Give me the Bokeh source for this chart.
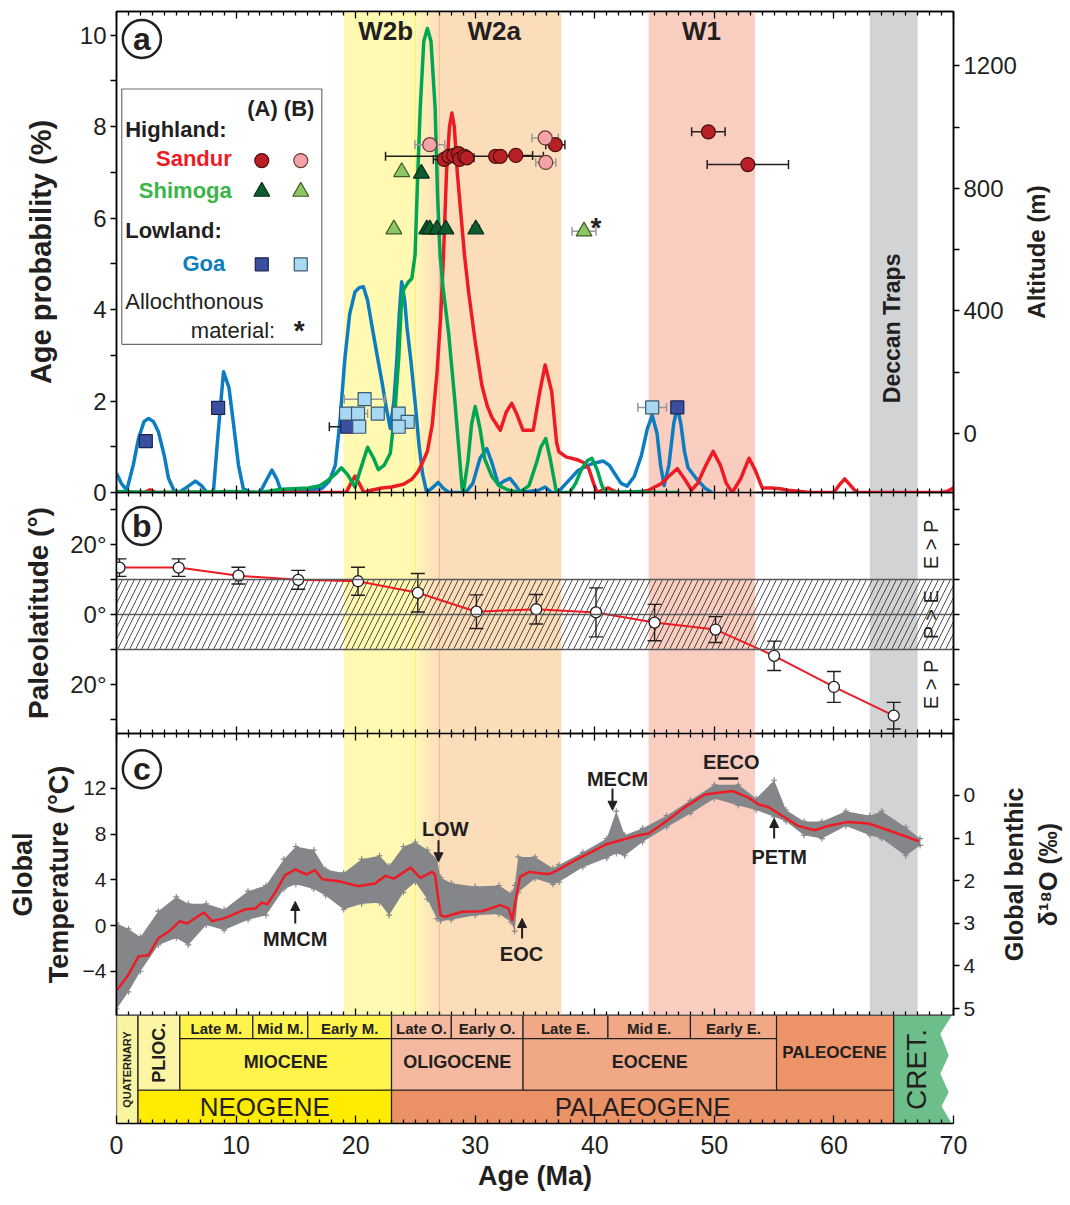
import numpy as np
from bokeh.plotting import figure
from bokeh.layouts import column, row
from bokeh.models import (Range1d, LinearAxis, FixedTicker, Span, Arrow, NormalHead, CustomJSTickFormatter,
                          CustomLabelingPolicy, Grid)
from bokeh.core.properties import value
from bokeh.embed import file_html
from bokeh.resources import INLINE

FONT = "Liberation Sans"

# ---------------- DATA ----------------
# Panel a: age probability curves (age Ma, %)
goa_curve = [(0, 0.42), (0.4, 0.2), (0.86, 0.05), (1.4, 0.6), (1.84, 1.18), (2.3, 1.55), (2.68, 1.62), (3.1, 1.55),
             (3.5, 1.33), (4.0, 0.8), (4.35, 0.31), (4.8, 0.05), (5.2, 0), (5.8, 0.1), (6.6, 0.25), (7.1, 0.15),
             (7.5, 0.02), (8.1, 0), (8.5, 1.3), (8.95, 2.64), (9.4, 2.3), (9.8, 1.47), (10.2, 0.6), (10.6, 0.09),
             (11.2, 0), (12.0, 0), (12.6, 0.3), (13.0, 0.49), (13.4, 0.3), (13.8, 0), (17.2, 0.09), (17.8, 0.25),
             (18.3, 0.6), (18.7, 1.6), (19.1, 2.93), (19.5, 3.9), (19.95, 4.39), (20.3, 4.48), (20.65, 4.5),
             (21.0, 4.2), (21.35, 3.66), (21.8, 3.0), (22.2, 2.42), (22.6, 1.8), (22.9, 1.4), (23.2, 2.0),
             (23.45, 2.93), (23.65, 3.9), (23.85, 4.61), (24.1, 4.2), (24.3, 3.6), (24.6, 2.93), (25.0, 1.9),
             (25.3, 1.04), (25.6, 0.4), (25.95, 0), (26.4, 0.1), (26.9, 0.22), (27.3, 0.1), (27.8, 0), (29.2, 0),
             (29.8, 0.2), (30.4, 0.75), (30.97, 0.96), (31.4, 0.65), (31.95, 0.16), (32.4, 0.25), (32.9, 0.31),
             (33.4, 0.15), (33.8, 0), (35.3, 0.05), (35.85, 0.12), (36.4, 0), (36.9, 0), (37.6, 0.2), (38.6, 0.48),
             (39.75, 0.63), (40.7, 0.69), (41.2, 0.6), (41.7, 0.4), (42.2, 0.2), (42.7, 0.14), (43.3, 0.35),
             (43.9, 0.81), (44.4, 1.4), (44.8, 1.69), (45.2, 1.3), (45.5, 0.6), (45.8, 0.15), (46.2, 0.6),
             (46.6, 1.5), (46.9, 1.88), (47.2, 1.5), (47.5, 0.9), (47.8, 0.54), (48.5, 0.3), (49.2, 0.1), (49.8, 0)]
sandur_curve = [(0, 0), (2.3, 0), (2.8, 0.06), (3.3, 0), (19.2, 0), (19.6, 0.2), (19.95, 0.36), (20.3, 0.2),
                (20.7, 0), (21.3, 0.05), (22.2, 0.1), (23.0, 0.12), (24.0, 0.18), (24.7, 0.29), (25.2, 0.45),
                (25.5, 0.6), (26.0, 0.9), (26.4, 1.47), (26.8, 2.6), (27.1, 3.8), (27.35, 5.2), (27.6, 7.0),
                (27.85, 8.0), (28.05, 8.3), (28.25, 8.0), (28.5, 7.0), (29.1, 5.2), (29.44, 4.4), (30.0, 3.3),
                (30.55, 2.35), (31.0, 1.9), (31.4, 1.64), (32.1, 1.36), (32.6, 1.76), (33.05, 1.95), (33.5, 1.7),
                (34.0, 1.36), (34.85, 1.36), (35.4, 2.2), (35.85, 2.79), (36.4, 2.2), (36.8, 1.1), (37.0, 0.89),
                (37.6, 0.78), (38.6, 0.71), (39.1, 0.65), (39.5, 0.52), (39.9, 0.2), (40.2, 0), (40.6, 0.05),
                (41.1, 0.1), (41.5, 0.05), (41.9, 0), (43.6, 0), (44.5, 0.05), (45.6, 0.2), (46.3, 0.38),
                (46.9, 0.52), (47.5, 0.3), (48.1, 0.05), (48.6, 0.2), (49.3, 0.6), (49.9, 0.9), (50.5, 0.6),
                (51.0, 0.2), (51.5, 0), (52.2, 0.3), (52.9, 0.75), (53.4, 0.5), (54.0, 0.1), (54.8, 0.1),
                (55.5, 0.08), (56.2, 0.05), (57.0, 0.03), (58.0, 0), (60.0, 0), (60.4, 0.15), (60.9, 0.3),
                (61.4, 0.15), (61.9, 0), (69.0, 0), (69.5, 0.03), (70, 0.1)]
shimoga_curve = [(0, 0.02), (3, 0), (10, 0.02), (12, 0), (13.8, 0.07), (16.05, 0.1), (17.0, 0.15), (17.7, 0.27),
                 (18.3, 0.4), (18.8, 0.54), (19.3, 0.4), (19.95, 0.12), (20.4, 0.5), (21.0, 0.99), (21.5, 0.75),
                 (21.9, 0.5), (22.4, 0.6), (22.9, 0.86), (23.3, 1.8), (23.6, 2.93), (23.8, 4.0), (24.0, 4.43),
                 (24.4, 4.6), (24.7, 4.68), (24.97, 5.2), (25.2, 7.0), (25.4, 8.4), (25.7, 9.87), (26.0, 10.15),
                 (26.3, 9.87), (26.65, 8.4), (26.85, 6.5), (27.06, 5.2), (27.3, 4.5), (27.77, 3.5), (28.3, 2.0),
                 (28.9, 0.1), (29.0, 0), (29.4, 0.7), (29.7, 1.5), (30.0, 1.88), (30.4, 1.4), (30.8, 0.73),
                 (31.4, 0.35), (32.0, 0.15), (32.8, 0.05), (33.7, 0), (34.5, 0.15), (35.15, 0.67), (35.5, 1.0),
                 (35.9, 1.18), (36.3, 0.7), (36.8, 0), (37.9, 0), (38.4, 0.2), (38.9, 0.52), (39.4, 0.7),
                 (39.75, 0.75), (40.2, 0.5), (40.6, 0.15), (40.9, 0), (43.9, 0.02), (44.5, 0), (47, 0)]

# Panel a samples: (age Ma, altitude m, age error Ma)
sandur_A = [(27.4, 895, 0.9), (27.8, 905, 0.5), (28.2, 908, 0.5), (28.6, 914, 0.5), (28.7, 895, 0.5),
            (29.1, 905, 6.6), (29.3, 900, 0.6), (31.7, 905, 0.4), (32.1, 905, 0.4), (33.4, 908, 1.4),
            (36.7, 943, 0.8), (49.5, 985, 1.4), (52.8, 878, 3.4)]
sandur_B = [(26.2, 943, 1.25), (35.85, 965, 1.1), (35.9, 885, 0.84)]
shimoga_A = [(25.5, 849, 0), (25.95, 667, 0), (26.2, 667, 0), (26.8, 667, 0), (27.55, 667, 0), (30.05, 667, 0.3)]
shimoga_B = [(23.85, 854, 0), (23.2, 667, 0), (39.1, 660, 1.0)]
goa_A = [(2.45, -25, 0), (8.5, 84, 0), (19.3, 22, 1.5), (46.9, 85, 0.3)]
goa_B = [(20.75, 112, 1.7), (19.2, 65, 0), (20.2, 65, 0.8), (21.85, 65, 0), (23.6, 65, 0), (24.35, 38, 0),
         (23.6, 22, 0), (20.3, 22, 0), (44.8, 85, 1.2)]
allochthonous = [(40.1, 672)]

# Panel b: paleolatitude (age, latitude deg, error deg)
paleolat = [(0.25, 13.4, 2.5), (5.2, 13.4, 2.5), (10.2, 11.1, 2.4), (15.2, 9.9, 2.7), (20.2, 9.5, 4.0),
            (25.2, 6.2, 5.5), (30.1, 0.8, 4.8), (35.1, 1.5, 4.2), (40.1, 0.6, 7.0), (45.0, -2.3, 5.2),
            (50.1, -4.3, 3.7), (55.0, -11.8, 4.2), (60.0, -20.7, 4.4), (65.0, -28.9, 3.8)]
equator_band = (-10, 10)

# Panel c: global temperature smooth curve (age, degC)
temp_curve = [(0.03, -5.65), (1.0, -4.3), (1.84, -2.7), (2.68, -2.6), (3.5, -1.1), (4.35, -0.55), (5.3, 0.38),
              (5.9, 0.17), (7.3, 1.14), (8.0, 0.38), (9.1, 0.67), (10.8, 1.43), (11.6, 1.49), (12.15, 2.0),
              (12.6, 1.86), (13.3, 2.94), (14.1, 4.4), (14.95, 4.9), (15.9, 4.46), (16.6, 4.84), (17.2, 4.05),
              (18.6, 3.87), (20.2, 3.44), (21.6, 3.67), (22.5, 4.34), (23.2, 4.1), (24.6, 5.07), (25.4, 4.17),
              (26.4, 4.69), (26.65, 4.4), (27.1, 0.9), (27.5, 0.76), (28.9, 1.2), (30.55, 1.25), (32.1, 1.78),
              (32.8, 1.49), (33.1, 0.47), (33.4, 2.36), (33.75, 4.25), (34.5, 4.69), (35.6, 4.55), (36.2, 4.5),
              (36.9, 4.84), (38.1, 5.57), (40.9, 7.08), (43.7, 7.9), (44.5, 8.04), (45.9, 9.06), (47.6, 10.4),
              (49.2, 11.45), (51.5, 11.77), (52.9, 11.16), (53.7, 10.58), (54.5, 10.37), (55.6, 9.64),
              (57.0, 8.71), (58.4, 8.33), (59.5, 8.71), (61.2, 9.06), (62.9, 8.92), (64.8, 8.24), (67.1, 7.37)]
# Panel c: benthic data cloud envelope (age, upper degC, lower degC)
temp_cloud = [(0, 0.2, -7.3), (1, -0.3, -5.8), (2, -1.0, -4.0), (3.5, 1.25, -1.7), (5, 2.5, -1.1), (6, 1.9, -1.7),
              (7.5, 1.9, 0.05), (9, 1.4, -0.4), (11, 3.0, 0.5), (12.5, 3.5, 0.9), (14, 5.8, 3.2), (15, 6.9, 3.6),
              (16.5, 6.6, 3.2), (17.5, 4.9, 2.6), (19, 4.6, 1.4), (20.5, 5.8, 1.9), (22, 6.1, 2.0), (22.8, 5.2, 0.9),
              (24, 6.9, 2.9), (25, 7.3, 3.8), (26, 6.6, 2.3), (26.8, 5.8, 0.6), (27.1, 4.2, 0.4), (28, 3.7, 0.5),
              (30, 3.4, 0.9), (32, 3.5, 1.0), (33, 2.8, 0.3), (33.3, 3.5, -0.5), (33.6, 6.0, 2.9), (35, 6.0, 4.1),
              (36.5, 5.0, 3.6), (37, 5.3, 3.8), (39, 6.4, 5.1), (41, 7.6, 5.9), (41.8, 10.0, 6.3), (42.5, 7.9, 6.1),
              (44, 8.5, 7.3), (46, 9.6, 8.6), (48, 10.95, 9.8), (50, 12.3, 11.1), (52, 12.3, 10.5),
              (53.5, 11.1, 10.1), (55, 12.7, 9.5), (56, 10.1, 9.1), (57.5, 9.1, 7.9), (59, 9.1, 7.6),
              (61, 10.0, 8.7), (63, 9.6, 7.9), (64, 10.0, 7.6), (66, 8.6, 6.1), (67.2, 7.6, 7.0)]
# Panel c event annotations: (label, arrow age, tail degC, tip degC, label age, label degC)
events = [("MMCM", 14.95, 0.17, 2.1, 14.95, -1.14), ("LOW", 26.93, 7.46, 5.57, 27.49, 8.48),
          ("EOC", 33.92, -1.14, 0.61, 33.87, -2.45), ("MECM", 41.48, 11.98, 10.08, 41.9, 12.85),
          ("PETM", 55.0, 7.6, 9.36, 55.42, 6.0)]
eeco = ("EECO", 50.35, 52.0, 12.85)

# Shaded intervals (age Ma)
band_w2b = (19.0, 24.8)
band_transition = (24.8, 26.9)
band_w2a = (26.9, 37.2)
band_w1 = (44.5, 53.4)
band_deccan = (63.0, 67.0)

# Geological time scale: (name, start, end, row, colour)
ts_units = [("QUATERNARY", 0.0, 1.8, "all", "#F9F4A1"), ("PLIOC.", 1.8, 5.3, "upper", "#FBF5A4"),
            ("Late M.", 5.3, 11.4, "sub", "#FFF34C"), ("Mid M.", 11.4, 16.0, "sub", "#FFF34C"),
            ("Early M.", 16.0, 23.0, "sub", "#FFF34C"), ("MIOCENE", 5.3, 23.0, "epoch", "#FFF34C"),
            ("Late O.", 23.0, 28.0, "sub", "#F4B99F"), ("Early O.", 28.0, 34.0, "sub", "#F4B99F"),
            ("OLIGOCENE", 23.0, 34.0, "epoch", "#F4B99F"), ("Late E.", 34.0, 41.1, "sub", "#F0A887"),
            ("Mid E.", 41.1, 48.0, "sub", "#F0A887"), ("Early E.", 48.0, 55.2, "sub", "#F0A887"),
            ("EOCENE", 34.0, 55.2, "epoch", "#F0A887"), ("PALEOCENE", 55.2, 65.0, "upper", "#EC9368"),
            ("NEOGENE", 1.8, 23.0, "period", "#FFEC00"), ("PALAEOGENE", 23.0, 65.0, "period", "#EB9166")]
cret_start = 65.0
cret_edge = [(69.86, 1.0), (68.9, 0.83), (69.6, 0.63), (68.9, 0.46), (69.6, 0.29), (69.0, 0.16), (69.86, 0.0)]

# ---------------- LAYOUT / STYLE ----------------
LB, FRAME_W = 116, 837
TOTAL_W = 1065
BORD = 20
TOP = 11
XR = Range1d(0, 70)
ROWS = {"all": (0.0, 1.0), "upper": (0.308, 1.0), "sub": (0.785, 1.0), "epoch": (0.308, 0.785), "period": (0.0, 0.308)}
HIDE = "try { const a = Array.from(indices); for (const i of a) indices.unset(i); } catch (e) {} return indices;"


def no_grid(p):
    for r in p.center:
        if isinstance(r, Grid):
            r.visible = False


def make_fig(height, yr, rb, top=0, bottom=BORD, transparent=True):
    p = figure(width=LB + FRAME_W + rb, height=height, x_range=XR, y_range=yr, output_backend="svg",
               toolbar_location=None, x_axis_location=None, y_axis_location=None, min_border_left=LB,
               min_border_right=rb, min_border_top=top, min_border_bottom=bottom)
    no_grid(p)
    p.outline_line_color = "black"
    p.outline_line_width = 1.5
    p.background_fill_color = "white"
    if transparent:
        p.border_fill_color = None
    return p


def style_axis(ax, ticks, minor=(), size="24px", labels=True, out=6, inn=0, minor_len=None, label_size="26px"):
    ax.ticker = FixedTicker(ticks=list(ticks), minor_ticks=list(minor))
    ml = out if minor_len is None else minor_len
    ax.major_tick_out = out
    ax.major_tick_in = inn
    ax.minor_tick_out = ml if out else 0
    ax.minor_tick_in = 0 if out else (minor_len if minor_len is not None else inn)
    ax.axis_line_color = "black"
    ax.axis_line_width = 1.5
    ax.major_tick_line_width = 1.3
    ax.minor_tick_line_width = 1.3
    ax.major_label_text_font = FONT
    ax.major_label_text_color = "#231F20"
    if labels:
        ax.major_label_text_font_size = size
        ax.major_label_standoff = 4
    else:
        ax.major_label_text_font_size = "0px"
        ax.major_label_standoff = 0
        ax.major_label_policy = CustomLabelingPolicy(code=HIDE)
    ax.axis_label_text_font = FONT
    ax.axis_label_text_font_style = "bold"
    ax.axis_label_text_font_size = label_size
    ax.axis_label_text_color = "#231F20"
    ax.axis_label_standoff = 6


def side_title(height, text, size, width, border, top=0):
    # narrow companion figure whose (left) axis title serves as the right-hand axis title
    s = figure(width=width, height=height, x_range=Range1d(0, 1), y_range=Range1d(0, 1), output_backend="svg",
               toolbar_location=None, x_axis_location=None, y_axis_location=None, min_border_left=border,
               min_border_right=0, min_border_top=top, min_border_bottom=BORD)
    no_grid(s)
    s.outline_line_color = None
    s.background_fill_color = None
    s.border_fill_color = None
    ax = LinearAxis(axis_label=text)
    style_axis(ax, [], [], labels=False, out=0, inn=0, label_size=size)
    ax.axis_line_color = None
    ax.axis_label_standoff = 0
    s.add_layout(ax, "left")
    return s


def xtick_axis(p, loc):
    ax = LinearAxis()
    style_axis(ax, range(0, 71, 10), [m for m in range(0, 71) if m % 10], labels=False, out=0, inn=7, minor_len=4)
    p.add_layout(ax, loc)
    return ax


def txt(p, x, y, s, size, bold=True, color="#231F20", align="center", baseline="middle", angle=0.0, yr=None):
    kw = {"y_range_name": yr} if yr else {}
    p.text(x=[x], y=[y], text=[s], text_font=value(FONT), text_font_size=f"{size}px",
           text_font_style="bold" if bold else "normal", text_color=color, text_align=align,
           text_baseline=baseline, angle=angle, **kw)


def lerp(c0, c1, t):
    return "#%02x%02x%02x" % tuple(int(round(a + (b - a) * t)) for a, b in zip(c0, c1))


def draw_bands(p, y0, y1):
    p.quad(left=[band_w2b[0]], right=[band_w2b[1]], bottom=y0, top=y1, fill_color="#FFF9B1", line_color=None)
    n = 14
    a, b = band_transition
    for i in range(n):
        p.quad(left=[a + (b - a) * i / n], right=[a + (b - a) * (i + 1) / n + 0.02], bottom=y0, top=y1,
               fill_color=lerp((255, 249, 177), (252, 221, 186), (i + 0.5) / n), line_color=None)
    p.quad(left=[band_w2a[0]], right=[band_w2a[1]], bottom=y0, top=y1, fill_color="#FCDDBA", line_color=None)
    p.quad(left=[band_w1[0]], right=[band_w1[1]], bottom=y0, top=y1, fill_color="#F9CDC0", line_color=None)
    p.quad(left=[band_deccan[0]], right=[band_deccan[1]], bottom=y0, top=y1, fill_color="#D1D3D4", line_color=None)
    p.segment(x0=[25.0], x1=[25.0], y0=[y0], y1=[y1], line_color="#FFF06A", line_width=1)
    p.segment(x0=[27.0], x1=[27.0], y0=[y0], y1=[y1], line_color="#F7B888", line_width=1)


def panel_label(p, x, y, s):
    p.scatter(x=[x], y=[y], marker="circle", size=38, fill_color="white", line_color="#231F20", line_width=2.5)
    txt(p, x, y, s, 32, bold=True)


# ---------------- PANEL A ----------------
YA = (0, 10.52)
ALT = (-192.6, 1377.8)
HA = TOP + 481 + BORD
RB_A = 66
fa = make_fig(HA, Range1d(*YA), rb=RB_A, top=TOP, transparent=False)
fa.extra_y_ranges = {"alt": Range1d(*ALT)}
draw_bands(fa, YA[0], YA[1])

for curve, col in ((goa_curve, "#0D7DC1"), (sandur_curve, "#ED1C24"), (shimoga_curve, "#00A651")):
    fa.line(x=[c[0] for c in curve], y=[c[1] for c in curve], line_color=col, line_width=3.5, line_join="round")

for txt_s, age in (("W2b", 22.52), ("W2a", 31.59), ("W1", 48.93)):
    txt(fa, age, 10.09, txt_s, 26)
txt(fa, 64.82, 3.59, "Deccan Traps", 23, angle=np.pi / 2)


def sample_errors(p, data, marker, fill, line, size, errcol):
    err = [d for d in data if d[2] > 0]
    if err:
        p.segment(x0=[d[0] - d[2] for d in err], x1=[d[0] + d[2] for d in err], y0=[d[1] for d in err],
                  y1=[d[1] for d in err], line_color=errcol, line_width=1.5, y_range_name="alt")
        p.scatter(x=[d[0] - d[2] for d in err] + [d[0] + d[2] for d in err], y=[d[1] for d in err] * 2,
                  marker="dash", angle=np.pi / 2, size=9, line_color=errcol, line_width=1.5, y_range_name="alt")


def sample_marks(p, data, marker, fill, line, size):
    p.scatter(x=[d[0] for d in data], y=[d[1] for d in data], marker=marker, size=size, fill_color=fill,
              line_color=line, line_width=1.2, y_range_name="alt")


groups = [(sandur_A, "circle", "#B82025", "#4a1010", 14, "#231F20"),
          (sandur_B, "circle", "#F4A3A8", "#6b3a3a", 14, "#9A9A9A"),
          (shimoga_A, "triangle", "#0D5B2E", "#06301a", 16, "#231F20"),
          (shimoga_B, "triangle", "#8DC763", "#3e5a2a", 16, "#9A9A9A"),
          (goa_A, "square", "#3B4FA0", "#1a2450", 13, "#231F20"),
          (goa_B, "square", "#A9D9F2", "#3a5a70", 13, "#9A9A9A")]
for g in groups:
    sample_errors(fa, *g)
for g in groups:
    sample_marks(fa, *g[:5])
for a_, alt_ in allochthonous:
    txt(fa, a_, alt_, "*", 28, yr="alt")

# legend box
fa.quad(left=[0.44], right=[17.17], bottom=[3.24], top=[8.825], fill_color="white", line_color="#6D6E71",
        line_width=1.2)
txt(fa, 13.74, 8.40, "(A) (B)", 22)
txt(fa, 0.73, 7.93, "Highland:", 22, align="left")
txt(fa, 9.64, 7.31, "Sandur", 22, color="#ED1C24", align="right")
txt(fa, 9.64, 6.61, "Shimoga", 22, color="#39B54A", align="right")
txt(fa, 0.73, 5.74, "Lowland:", 22, align="left")
txt(fa, 9.09, 5.01, "Goa", 22, color="#0D7DC1", align="right")
txt(fa, 0.73, 4.17, "Allochthonous", 22, bold=False, align="left")
txt(fa, 13.27, 3.55, "material:", 22, bold=False, align="right")
txt(fa, 15.28, 3.55, "*", 28)
leg_rows = [(7.26, "circle", "#B82025", "#4a1010", "#F4A3A8", "#6b3a3a", 14),
            (6.58, "triangle", "#0D5B2E", "#06301a", "#8DC763", "#3e5a2a", 16),
            (4.99, "square", "#3B4FA0", "#1a2450", "#A9D9F2", "#3a5a70", 13)]
for yy, mk, fA, lA, fB, lB, sz in leg_rows:
    fa.scatter(x=[12.15], y=[yy], marker=mk, size=sz, fill_color=fA, line_color=lA, line_width=1.2)
    fa.scatter(x=[15.41], y=[yy], marker=mk, size=sz, fill_color=fB, line_color=lB, line_width=1.2)
panel_label(fa, 2.12, 9.92, "a")

ax = LinearAxis(axis_label="Age probability (%)")
style_axis(ax, [0, 2, 4, 6, 8, 10], [1, 3, 5, 7, 9], size="24px", label_size="29px")
ax.axis_label_standoff = 20
fa.add_layout(ax, "left")
ax = LinearAxis(y_range_name="alt")
style_axis(ax, [0, 400, 800, 1200], [200, 600, 1000], size="24px")
fa.add_layout(ax, "right")
xtick_axis(fa, "above")
xtick_axis(fa, "below")
sa = side_title(HA, "Altitude (m)", "24px", width=TOTAL_W - (LB + FRAME_W + RB_A), border=20, top=TOP)
ra = row(fa, sa)

# ---------------- PANEL B ----------------
YB = (-34.0, 34.86)
fb = make_fig(241 + BORD, Range1d(*YB), rb=TOTAL_W - LB - FRAME_W)
fb.margin = (-BORD, 0, 0, 0)
draw_bands(fb, YB[0], YB[1])
fb.quad(left=[0], right=[70], bottom=[equator_band[0]], top=[equator_band[1]], fill_color=None, line_color=None,
        hatch_pattern="/", hatch_color="#231F20", hatch_weight=0.8, hatch_scale=12)
for loc in (equator_band[0], 0, equator_band[1]):
    fb.add_layout(Span(location=loc, dimension="width", line_color="#58595B", line_width=1.3))
pa = [d[0] for d in paleolat]
pl = [d[1] for d in paleolat]
pe = [d[2] for d in paleolat]
fb.segment(x0=pa, x1=pa, y0=[l - e for l, e in zip(pl, pe)], y1=[l + e for l, e in zip(pl, pe)],
           line_color="#231F20", line_width=1.4)
fb.scatter(x=pa + pa, y=[l - e for l, e in zip(pl, pe)] + [l + e for l, e in zip(pl, pe)], marker="dash",
           size=14, line_color="#231F20", line_width=1.4)
fb.line(x=pa, y=pl, line_color="#ED1C24", line_width=2)
fb.scatter(x=pa, y=pl, marker="circle", size=11, fill_color="white", line_color="#231F20", line_width=1.3)
for s, lat in (("E > P", 20), ("P > E", 0), ("E > P", -20)):
    txt(fb, 68.16, lat, s, 20, bold=False, angle=np.pi / 2)
panel_label(fb, 2.12, 25.3, "b")
ax = LinearAxis(axis_label="Paleolatitude (°)")
style_axis(ax, [-20, 0, 20], [-30, -10, 10, 30], size="24px", label_size="28px")
ax.axis_label_standoff = 13
ax.formatter = CustomJSTickFormatter(code="return Math.abs(tick) + '°';")
fb.add_layout(ax, "left")
ax = LinearAxis()
style_axis(ax, [-20, 0, 20], [-30, -10, 10, 30], labels=False)
fb.add_layout(ax, "right")
xtick_axis(fb, "above")
xtick_axis(fb, "below")

# ---------------- PANEL C ----------------
YC = (-7.87, 16.79)
D18 = (5.164, -1.455)
HC = 282 + BORD
RB_C = 40
fc = make_fig(HC, Range1d(*YC), rb=RB_C)
fc.extra_y_ranges = {"d18o": Range1d(*D18)}
draw_bands(fc, YC[0], YC[1])
ca = [c[0] for c in temp_cloud]
fc.varea(x=ca, y1=[c[2] for c in temp_cloud], y2=[c[1] for c in temp_cloud], fill_color="#848689")
fc.scatter(x=ca + ca, y=[c[1] for c in temp_cloud] + [c[2] for c in temp_cloud], marker="cross", size=6,
           line_color="#848689", line_width=1.2)
fc.line(x=[c[0] for c in temp_curve], y=[c[1] for c in temp_curve], line_color="#ED1C24", line_width=2.5,
        line_join="round")
for name, age, tail, tip, lx, ly in events:
    fc.add_layout(Arrow(end=NormalHead(size=9, fill_color="#231F20", line_color="#231F20"), x_start=age,
                        y_start=tail, x_end=age, y_end=tip, line_width=2, line_color="#231F20"))
    txt(fc, lx, ly, name, 20)
txt(fc, 51.41, 14.31, eeco[0], 20)
fc.segment(x0=[eeco[1]], x1=[eeco[2]], y0=[eeco[3]], y1=[eeco[3]], line_color="#231F20", line_width=2.5)
panel_label(fc, 2.12, 13.66, "c")
ax = LinearAxis(axis_label="Global\nTemperature (°C)")
style_axis(ax, [-4, 0, 4, 8, 12], size="21px", label_size="27px")
fc.add_layout(ax, "left")
ax = LinearAxis(y_range_name="d18o")
style_axis(ax, [0, 1, 2, 3, 4, 5], size="21px")
fc.add_layout(ax, "right")
xtick_axis(fc, "above")
xtick_axis(fc, "below")
sc = side_title(HC, "Global benthic\nδ¹⁸O (‰)", "25px", width=TOTAL_W - (LB + FRAME_W + RB_C), border=68)
rc = row(fc, sc)
rc.margin = (-BORD, 0, 0, 0)

# ---------------- TIME SCALE ----------------
ft = make_fig(108 + 70, Range1d(0, 1), rb=TOTAL_W - LB - FRAME_W, bottom=70)
ft.margin = (-BORD, 0, 0, 0)
ft.outline_line_color = None
for name, s, e, rw, col in ts_units:
    b0, b1 = ROWS[rw]
    ft.quad(left=[s], right=[e], bottom=[b0], top=[b1], fill_color=col, line_color="#231F20", line_width=1.2)
ft.patch(x=[cret_start, cret_start] + [c[0] for c in cret_edge], y=[0.0, 1.0] + [c[1] for c in cret_edge],
         fill_color="#6CBF8B", line_color=None)
ft.segment(x0=[cret_start], x1=[cret_start], y0=[0], y1=[1], line_color="#231F20", line_width=1.2)
ft.segment(x0=[cret_start], x1=[cret_edge[0][0]], y0=[1], y1=[1], line_color="#231F20", line_width=1.2)
for name, s, e, rw, col in ts_units:
    mid = (s + e) / 2
    if rw == "sub":
        txt(ft, mid, 0.878, name, 15)
    elif rw == "epoch":
        txt(ft, mid, 0.567, name, 18)
    elif rw == "period":
        txt(ft, mid, 0.154, name, 26, bold=False)
    elif name == "PALEOCENE":
        txt(ft, mid - 0.05, 0.66, name, 17)
    elif name == "PLIOC.":
        txt(ft, mid, 0.654, name, 18, angle=np.pi / 2)
    elif name == "QUATERNARY":
        txt(ft, mid, 0.5, name, 11, angle=np.pi / 2)
txt(ft, 66.9, 0.5, "CRET.", 28, bold=False, angle=np.pi / 2)
ax = LinearAxis(axis_label="Age (Ma)")
style_axis(ax, range(0, 71, 10), [m for m in range(0, 71) if m % 10], size="25px", out=0, inn=8, minor_len=4,
           label_size="27px")
ax.major_label_standoff = 12
ax.axis_label_standoff = 4
ft.add_layout(ax, "below")

layout = column(ra, fb, rc, ft)
open("out.html", "w").write(file_html(layout, INLINE))
